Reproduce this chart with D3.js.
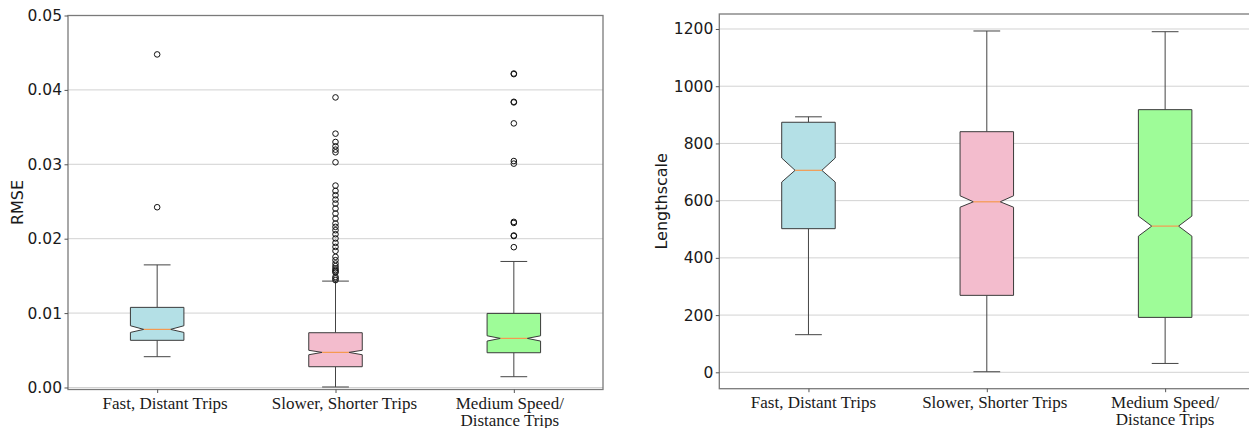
<!DOCTYPE html>
<html>
<head>
<meta charset="utf-8">
<script src="https://cdn.jsdelivr.net/npm/d3@7"></script>
<style>
  html, body { margin: 0; padding: 0; background: #fff; }
  svg { display: block; }
</style>
</head>
<body>
<svg id="chart" width="1249" height="428"></svg>
<script>
// Cluster names (third one wraps onto two lines)
const categories = ["Fast, Distant Trips", "Slower, Shorter Trips", "Medium Speed/\nDistance Trips"];
const boxColors = ["#b4e0e6", "#f3bccd", "#9efc98"];

// RMSE per cluster: whiskers, quartiles, median, notch bounds, fliers
const rmseWhiskerLow  = [0.00414, 0.00007, 0.00145];
const rmseQ1          = [0.00634, 0.00279, 0.00467];
const rmseMedian      = [0.00781, 0.00472, 0.00660];
const rmseQ3          = [0.01077, 0.00736, 0.00996];
const rmseWhiskerHigh = [0.01648, 0.01430, 0.01694];
const rmseNotchLow    = [0.00740, 0.00440, 0.00624];
const rmseNotchHigh   = [0.00830, 0.00500, 0.00695];
const rmseOutliers = [
  [0.04477, 0.02423],
  [0.03899, 0.03412, 0.03300, 0.03242, 0.03197, 0.03161, 0.03027, 0.02714, 0.02642,
   0.02584, 0.02526, 0.02472, 0.02405, 0.02338, 0.02271, 0.02204, 0.02159, 0.02114,
   0.02060, 0.02003, 0.01944, 0.01890, 0.01836, 0.01756, 0.01711, 0.01667, 0.01631,
   0.01601, 0.01577, 0.01560, 0.01545, 0.01487, 0.01466, 0.01443],
  [0.04220, 0.04212, 0.03840, 0.03832, 0.03550, 0.03044, 0.03009, 0.02226, 0.02212,
   0.02043, 0.02036, 0.01886]
];
const rmseTicks = [0.00, 0.01, 0.02, 0.03, 0.04, 0.05];

// Lengthscale per cluster
const lsWhiskerLow  = [131.5, 2, 31];
const lsQ1          = [502, 269, 192];
const lsMedian      = [706, 596, 511];
const lsQ3          = [874, 841, 918];
const lsWhiskerHigh = [893, 1193, 1190.5];
const lsNotchLow    = [665, 577, 476];
const lsNotchHigh   = [749, 617, 546];
const lsOutliers    = [[], [], []];
const lsTicks = [0, 200, 400, 600, 800, 1000, 1200];

const svg = d3.select("#chart");

function boxPanel(cfg) {
  const g = svg.append("g");
  const x = d3.scaleLinear().domain([0.5, 3.5]).range([cfg.left, cfg.right]);
  const y = d3.scaleLinear().domain(cfg.yDomain).range([cfg.bottom, cfg.top]);
  const s = cfg.stats;

  // horizontal grid
  g.append("g").selectAll("line").data(cfg.ticks).join("line")
    .attr("x1", cfg.left).attr("x2", cfg.right)
    .attr("y1", d => y(d)).attr("y2", d => y(d))
    .attr("stroke", "#d2d2d2").attr("stroke-width", 1);

  const halfW = 0.15, capW = 0.075, notchW = 0.075;

  categories.forEach((c, i) => {
    const p = i + 1;
    const bg = g.append("g");
    // whiskers
    bg.append("line").attr("x1", x(p)).attr("x2", x(p))
      .attr("y1", y(s.q3[i])).attr("y2", y(s.whHi[i]))
      .attr("stroke", "#444").attr("stroke-width", 1);
    bg.append("line").attr("x1", x(p)).attr("x2", x(p))
      .attr("y1", y(s.q1[i])).attr("y2", y(s.whLo[i]))
      .attr("stroke", "#444").attr("stroke-width", 1);
    // caps
    [s.whHi[i], s.whLo[i]].forEach(v => {
      bg.append("line").attr("x1", x(p - capW)).attr("x2", x(p + capW))
        .attr("y1", y(v)).attr("y2", y(v))
        .attr("stroke", "#444").attr("stroke-width", 1);
    });
    // notched box
    const L = p - halfW, R = p + halfW;
    const pts = [
      [L, s.q1[i]], [L, s.nLo[i]], [p - notchW, s.med[i]], [L, s.nHi[i]], [L, s.q3[i]],
      [R, s.q3[i]], [R, s.nHi[i]], [p + notchW, s.med[i]], [R, s.nLo[i]], [R, s.q1[i]]
    ];
    bg.append("path")
      .attr("d", d3.line().x(d => x(d[0])).y(d => y(d[1]))(pts) + "Z")
      .attr("fill", boxColors[i]).attr("stroke", "#3a3a3a").attr("stroke-width", 1);
    // median
    bg.append("line").attr("x1", x(p - notchW)).attr("x2", x(p + notchW))
      .attr("y1", y(s.med[i])).attr("y2", y(s.med[i]))
      .attr("stroke", "#f59a50").attr("stroke-width", 1.2);
    // fliers
    bg.selectAll("circle").data(s.out[i]).join("circle")
      .attr("cx", x(p)).attr("cy", d => y(d)).attr("r", 2.8)
      .attr("fill", "none").attr("stroke", "#111").attr("stroke-width", 1);
  });

  // spines
  g.append("rect")
    .attr("x", cfg.left).attr("y", cfg.top)
    .attr("width", cfg.right - cfg.left).attr("height", cfg.bottom - cfg.top)
    .attr("fill", "none").attr("stroke", "#7a7a7a").attr("stroke-width", 1.3);

  // y axis
  const yAxis = d3.axisLeft(y).tickValues(cfg.ticks).tickFormat(cfg.fmt)
    .tickSizeInner(3.5).tickSizeOuter(0).tickPadding(2.5);
  const ya = g.append("g").attr("transform", `translate(${cfg.left},0)`).call(yAxis);
  ya.select(".domain").remove();
  ya.selectAll(".tick line").attr("stroke", "#555");
  ya.selectAll(".tick text")
    .attr("font-family", "'DejaVu Sans', sans-serif").attr("font-size", 15.5)
    .attr("fill", "#1a1a1a");

  // x axis
  const xAxis = d3.axisBottom(x).tickValues([1, 2, 3]).tickFormat("")
    .tickSizeInner(3.5).tickSizeOuter(0);
  const xa = g.append("g").attr("transform", `translate(0,${cfg.bottom})`).call(xAxis);
  xa.select(".domain").remove();
  xa.selectAll(".tick line").attr("stroke", "#555");

  categories.forEach((c, i) => {
    const cx = x(i + 1) + cfg.labelShift[i];
    const t = g.append("text")
      .attr("x", cx).attr("y", cfg.bottom + 19)
      .attr("text-anchor", "middle")
      .attr("font-family", "'Liberation Serif', 'Times New Roman', serif")
      .attr("font-size", 17).attr("fill", "#1a1a1a");
    c.split("\n").forEach((line, k) => {
      t.append("tspan").attr("x", cx).attr("dy", k === 0 ? 0 : 17).text(line);
    });
  });

  // y label
  g.append("text")
    .attr("transform", `translate(${cfg.labelX},${(cfg.top + cfg.bottom) / 2}) rotate(-90)`)
    .attr("text-anchor", "middle")
    .attr("font-family", "'DejaVu Sans', sans-serif").attr("font-size", 16)
    .attr("fill", "#1a1a1a")
    .text(cfg.label);
}

boxPanel({
  left: 68, right: 603, top: 15.5, bottom: 389.5,
  yDomain: [-0.00027, 0.05],
  ticks: rmseTicks, fmt: d3.format(".2f"),
  label: "RMSE", labelX: 23,
  labelShift: [8, 9, -4],
  stats: { whLo: rmseWhiskerLow, q1: rmseQ1, med: rmseMedian, q3: rmseQ3,
           whHi: rmseWhiskerHigh, nLo: rmseNotchLow, nHi: rmseNotchHigh, out: rmseOutliers }
});

boxPanel({
  left: 719.3, right: 1254.3, top: 14, bottom: 388.7,
  yDomain: [-57.3, 1252.4],
  ticks: lsTicks, fmt: d3.format("d"),
  label: "Lengthscale", labelX: 667,
  labelShift: [5, 8, 0],
  stats: { whLo: lsWhiskerLow, q1: lsQ1, med: lsMedian, q3: lsQ3,
           whHi: lsWhiskerHigh, nLo: lsNotchLow, nHi: lsNotchHigh, out: lsOutliers }
});
</script>
</body>
</html>
